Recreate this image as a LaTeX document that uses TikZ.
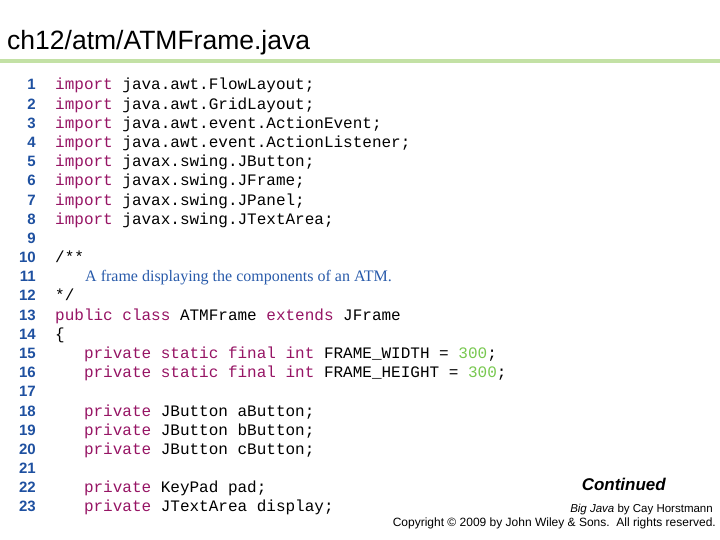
\documentclass[tikz,border=0pt]{standalone}
\usepackage{fontspec}
\setmainfont{Liberation Serif}
\setsansfont{Liberation Sans}
\setmonofont{Liberation Mono}
\definecolor{ln}{RGB}{30,80,160}
\definecolor{kw}{RGB}{150,20,100}
\definecolor{cm}{RGB}{40,90,170}
\definecolor{nm}{RGB}{120,200,80}
\definecolor{bar}{RGB}{195,225,165}
\newcommand{\kwd}[1]{\textcolor{kw}{#1}}
\begin{document}
\begin{tikzpicture}[x=1pt,y=-1pt,
  num/.style={anchor=base east,font=\sffamily\bfseries\fontsize{15}{15}\selectfont,text=ln,inner sep=0},
  code/.style={anchor=base west,font=\ttfamily\fontsize{16}{16}\selectfont,inner sep=0}]
\useasboundingbox (0,0) rectangle (720,540);
\node[anchor=base west,inner sep=0,font=\sffamily\fontsize{26.5}{26.5}\selectfont] (title) at (7,50) {ch12/atm/ATMFrame.java};
\draw[bar,line width=4pt] (0,61) -- (720,61);
\foreach \i in {1,...,23} {\node[num] (n\i) at (36,{90+19.18*(\i-1)}) {\i};}
\def\L#1#2#3{\node[code] (c#1) at ({55+9.6*#2},{90+19.18*(#1-1)}) {#3};}
\L{1}{0}{\kwd{import} java.awt.FlowLayout;}
\L{2}{0}{\kwd{import} java.awt.GridLayout;}
\L{3}{0}{\kwd{import} java.awt.event.ActionEvent;}
\L{4}{0}{\kwd{import} java.awt.event.ActionListener;}
\L{5}{0}{\kwd{import} javax.swing.JButton;}
\L{6}{0}{\kwd{import} javax.swing.JFrame;}
\L{7}{0}{\kwd{import} javax.swing.JPanel;}
\L{8}{0}{\kwd{import} javax.swing.JTextArea;}
\L{10}{0}{/**}
\node[anchor=base west,inner sep=0,font=\rmfamily\fontsize{16}{16}\selectfont,text=cm] (c11) at (85,{90+19.18*10}) {A frame displaying the components of an ATM.};
\L{12}{0}{*/}
\L{13}{0}{\kwd{public class} ATMFrame \kwd{extends} JFrame}
\L{14}{0}{\{}
\L{15}{3}{\kwd{private static final int} FRAME\_WIDTH = \textcolor{nm}{300};}
\L{16}{3}{\kwd{private static final int} FRAME\_HEIGHT = \textcolor{nm}{300};}
\L{18}{3}{\kwd{private} JButton aButton;}
\L{19}{3}{\kwd{private} JButton bButton;}
\L{20}{3}{\kwd{private} JButton cButton;}
\L{22}{3}{\kwd{private} KeyPad pad;}
\L{23}{3}{\kwd{private} JTextArea display;}
\node[anchor=base east,inner sep=0,font=\sffamily\bfseries\itshape\fontsize{17}{17}\selectfont] (cont) at (666,490) {Continued};
\node[anchor=base east,inner sep=0,font=\sffamily\fontsize{11.5}{11.5}\selectfont] (bj) at (713,512) {\textit{Big Java} by Cay Horstmann};
\node[anchor=base east,inner sep=0,font=\sffamily\fontsize{12}{12}\selectfont] (cr) at (716,526) {Copyright © 2009 by John Wiley \& Sons.\ \ All rights reserved.};
\end{tikzpicture}
\end{document}
